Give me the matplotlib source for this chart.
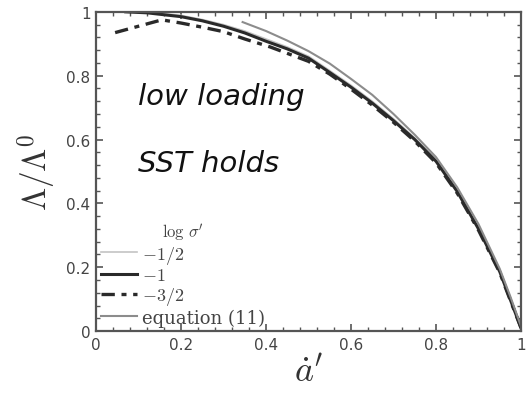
import matplotlib
matplotlib.use("Agg")
import matplotlib.pyplot as plt
from matplotlib.ticker import MultipleLocator

plt.rcParams["mathtext.fontset"] = "cm"

# log sigma' = -1/2
x_a = [0.07, 0.12, 0.2, 0.25, 0.3, 0.35, 0.4, 0.45, 0.5, 0.55, 0.6, 0.65, 0.7, 0.75, 0.8, 0.85, 0.9, 0.95, 0.975, 1.0]
y_a = [1.0, 0.999, 0.989, 0.976, 0.96, 0.94, 0.915, 0.89, 0.861, 0.816, 0.77, 0.72, 0.665, 0.605, 0.538, 0.442, 0.325, 0.19, 0.1, 0.012]
# log sigma' = -1
x_b = [0.07, 0.12, 0.2, 0.25, 0.3, 0.35, 0.4, 0.45, 0.5, 0.55, 0.6, 0.65, 0.7, 0.75, 0.8, 0.85, 0.9, 0.95, 0.975, 1.0]
y_b = [1.0, 0.997, 0.985, 0.972, 0.955, 0.934, 0.908, 0.884, 0.855, 0.81, 0.764, 0.714, 0.659, 0.6, 0.532, 0.437, 0.32, 0.186, 0.098, 0.01]
# log sigma' = -3/2
x_c = [0.045, 0.1, 0.155, 0.2, 0.25, 0.3, 0.35, 0.41, 0.45, 0.5, 0.55, 0.6, 0.65, 0.7, 0.75, 0.8, 0.85, 0.9, 0.95, 0.975, 1.0]
y_c = [0.935, 0.955, 0.975, 0.965, 0.952, 0.938, 0.915, 0.89, 0.87, 0.845, 0.805, 0.758, 0.708, 0.654, 0.595, 0.527, 0.432, 0.316, 0.183, 0.096, 0.01]
# equation (11)
x_d = [0.345, 0.4, 0.45, 0.5, 0.55, 0.6, 0.65, 0.7, 0.75, 0.8, 0.85, 0.9, 0.95, 0.975, 1.0]
y_d = [0.968, 0.94, 0.91, 0.877, 0.838, 0.79, 0.74, 0.68, 0.615, 0.545, 0.45, 0.335, 0.195, 0.108, 0.015]

fig = plt.figure(figsize=(5.26, 4.02), dpi=100)
ax = fig.add_axes([0.1825, 0.174, 0.808, 0.794])

ax.plot(x_a, y_a, color="#c4c4c4", lw=1.2, label="$-1/2$")
ax.plot(x_b, y_b, color="#2a2a2a", lw=2.2, label="$-1$")
ax.plot(x_c, y_c, color="#2a2a2a", lw=2.4, ls=(0, (4, 2, 1.5, 2)), label="$-3/2$")
ax.plot(x_d, y_d, color="#8c8c8c", lw=1.5, label="equation (11)")

ax.set_xlim(0, 1)
ax.set_ylim(0, 1)
ax.set_xticks([0, 0.2, 0.4, 0.6, 0.8, 1.0])
ax.set_xticklabels(["0", "0.2", "0.4", "0.6", "0.8", "1"])
ax.set_yticks([0, 0.2, 0.4, 0.6, 0.8, 1.0])
ax.set_yticklabels(["0", "0.2", "0.4", "0.6", "0.8", "1"])
ax.xaxis.set_minor_locator(MultipleLocator(0.04))
ax.yaxis.set_minor_locator(MultipleLocator(0.04))
ax.tick_params(which="both", direction="in", top=True, right=True, color="#555555")
ax.tick_params(which="major", length=5, width=1.2, labelsize=11, labelcolor="#444444", pad=4)
ax.tick_params(which="minor", length=3, width=1)
for s in ax.spines.values():
    s.set_color("#555555")
    s.set_linewidth(1.6)

ax.set_xlabel("$\\dot{a}'$", fontsize=26, color="#333333", labelpad=2)
ax.set_ylabel("$\\Lambda/\\Lambda^0$", fontsize=24, color="#333333", labelpad=6)

leg = ax.legend(loc="lower left", frameon=False, title="$\\log\\,\\sigma'$",
                fontsize=13, title_fontsize=12, handlelength=2.0, handletextpad=0.3,
                labelspacing=0.05, borderaxespad=0.1, borderpad=0.15)
for t in leg.get_texts():
    t.set_color("#444444")
    t.set_family("serif")
leg.get_title().set_color("#444444")

ax.text(0.1, 0.71, "low loading", fontsize=21, color="#111111", style="italic",
        fontweight="light")
ax.text(0.1, 0.5, "SST holds", fontsize=21, color="#111111", style="italic",
        fontweight="light")

fig.savefig("out.png", dpi=100)
